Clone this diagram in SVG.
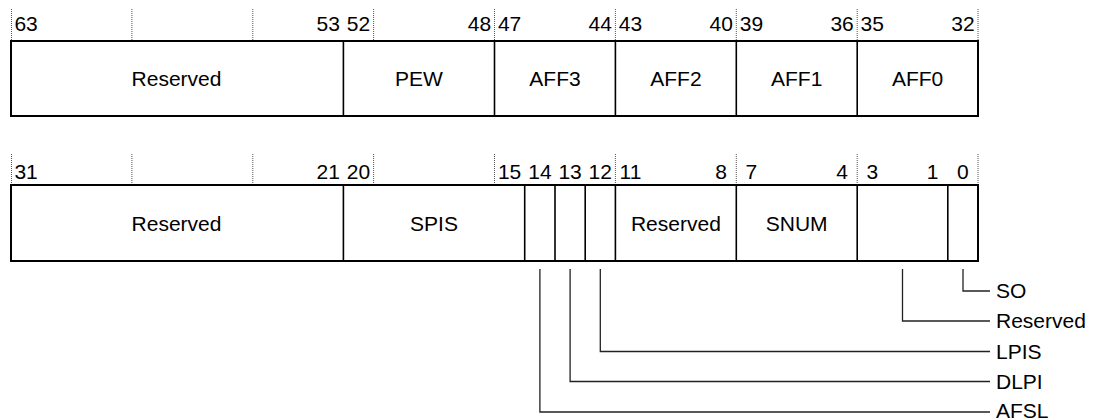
<svg xmlns="http://www.w3.org/2000/svg" width="1101" height="419" viewBox="0 0 1101 419">
<style>
text{font-family:"Liberation Sans",Arial,sans-serif;font-size:21px;fill:#000}
.n{text-anchor:middle}
.tick{stroke:#555;stroke-width:1;stroke-dasharray:1 1;fill:none}
.box{fill:#fff;stroke:#000;stroke-width:2}
.div{stroke:#000;stroke-width:1.6;fill:none}
.con{stroke:#222;stroke-width:1.3;fill:none}
</style>
<rect width="1101" height="419" fill="#fff"/>
<g id="ticks">
<path class="tick" d="M11.5 9V40M131.9 9V40M252.8 9V40M373.6 9V40M494.5 9V40M615.4 9V40M736.3 9V40M857.2 9V40M978 9V40"/>
<path class="tick" d="M11.5 154V184M131.9 154V184M252.8 154V184M373.6 154V184M494.5 154V184M615.4 154V184M736.3 154V184M857.2 154V184M978 154V184"/>
</g>
<g id="row1-bits">
<text class="n" x="26.1" y="30.7">63</text>
<text class="n" x="328.3" y="30.7">53</text>
<text class="n" x="358.5" y="30.7">52</text>
<text class="n" x="479.4" y="30.7">48</text>
<text class="n" x="509.6" y="30.7">47</text>
<text class="n" x="600.3" y="30.7">44</text>
<text class="n" x="630.5" y="30.7">43</text>
<text class="n" x="721.2" y="30.7">40</text>
<text class="n" x="751.4" y="30.7">39</text>
<text class="n" x="842.1" y="30.7">36</text>
<text class="n" x="872.3" y="30.7">35</text>
<text class="n" x="962.9" y="30.7">32</text>
</g>
<g id="row1">
<rect class="box" x="11" y="41" width="967" height="75"/>
<path class="div" d="M343.4 41V116M494.5 41V116M615.4 41V116M736.3 41V116M857.2 41V116"/>
</g>
<g id="r1-reserved"><text class="n" x="176.5" y="85.7">Reserved</text></g>
<g id="r1-pew"><text class="n" x="419" y="85.7">PEW</text></g>
<g id="r1-aff3"><text class="n" x="555" y="85.7">AFF3</text></g>
<g id="r1-aff2"><text class="n" x="675.9" y="85.7">AFF2</text></g>
<g id="r1-aff1"><text class="n" x="796.7" y="85.7">AFF1</text></g>
<g id="r1-aff0"><text class="n" x="917.6" y="85.7">AFF0</text></g>
<g id="row2-bits">
<text class="n" x="26.1" y="178.5">31</text>
<text class="n" x="328.3" y="178.5">21</text>
<text class="n" x="358.5" y="178.5">20</text>
<text class="n" x="509.6" y="178.5">15</text>
<text class="n" x="539.9" y="178.5">14</text>
<text class="n" x="570.1" y="178.5">13</text>
<text class="n" x="600.3" y="178.5">12</text>
<text class="n" x="630.5" y="178.5">11</text>
<text class="n" x="721.2" y="178.5">8</text>
<text class="n" x="751.4" y="178.5">7</text>
<text class="n" x="842.1" y="178.5">4</text>
<text class="n" x="872.3" y="178.5">3</text>
<text class="n" x="932.7" y="178.5">1</text>
<text class="n" x="962.9" y="178.5">0</text>
</g>
<g id="row2">
<rect class="box" x="11" y="185" width="967" height="76"/>
<path class="div" d="M343.4 185V261M524.7 185V261M555 185V261M585.2 185V261M615.4 185V261M736.3 185V261M857.2 185V261M947.8 185V261"/>
</g>
<g id="r2-reserved"><text class="n" x="176.5" y="231">Reserved</text></g>
<g id="r2-spis"><text class="n" x="434" y="231">SPIS</text></g>
<g id="r2-reserved2"><text class="n" x="675.9" y="231">Reserved</text></g>
<g id="r2-snum"><text class="n" x="796.7" y="231">SNUM</text></g>
<g id="connectors">
<path class="con" d="M963 269V291H990"/>
<path class="con" d="M902.5 269V321H990"/>
<path class="con" d="M600.3 269V351.5H990"/>
<path class="con" d="M570.1 269V381.5H990"/>
<path class="con" d="M539.9 269V412H990"/>
</g>
<g id="lbl-so"><text x="996" y="298">SO</text></g>
<g id="lbl-reserved"><text x="996" y="328">Reserved</text></g>
<g id="lbl-lpis"><text x="996" y="358.5">LPIS</text></g>
<g id="lbl-dlpi"><text x="996" y="388.5">DLPI</text></g>
<g id="lbl-afsl"><text x="996" y="418">AFSL</text></g>
</svg>
